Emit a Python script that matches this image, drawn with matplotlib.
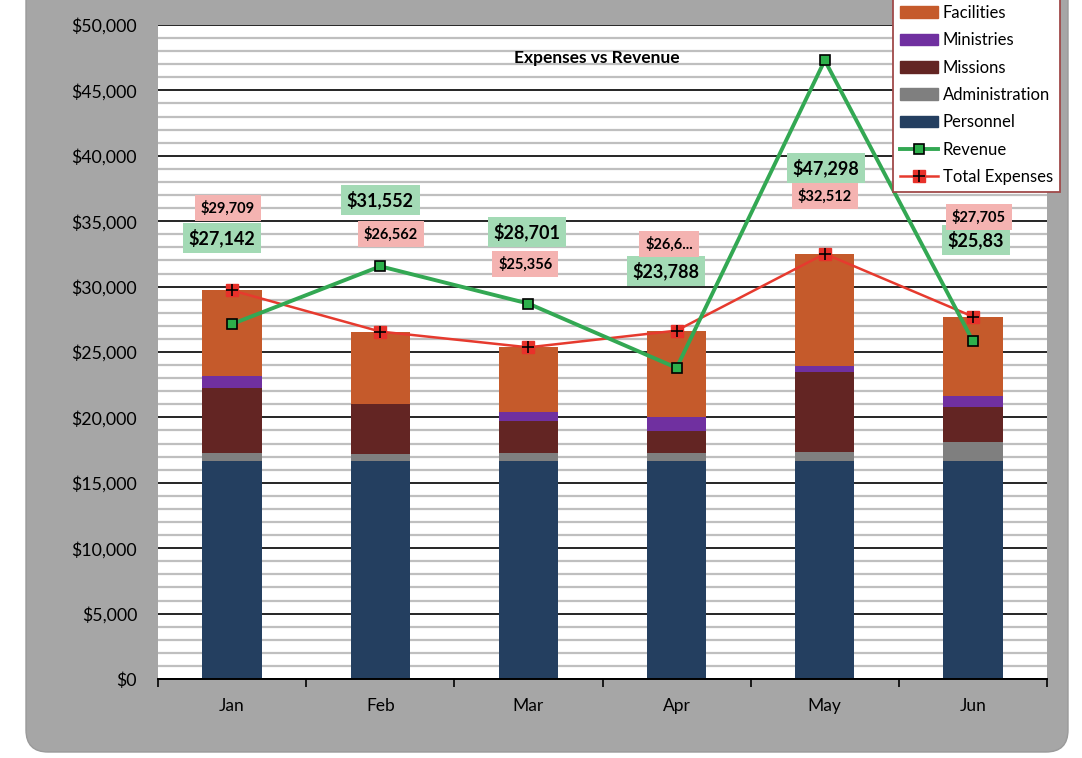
import numpy as np
import matplotlib
matplotlib.use('Agg')
import matplotlib.pyplot as plt
from matplotlib.patches import FancyBboxPatch, Patch
from matplotlib.lines import Line2D
from matplotlib.legend_handler import HandlerTuple
from matplotlib.transforms import IdentityTransform
from matplotlib.ticker import FuncFormatter, MultipleLocator

plt.rcParams['font.family'] = ['Lato', 'DejaVu Sans']

# Data
months = ['Jan', 'Feb', 'Mar', 'Apr', 'May', 'Jun']
personnel = [16650, 16650, 16650, 16650, 16650, 16650]
administration = [620, 540, 650, 650, 700, 1470]
missions = [4990, 3820, 2450, 1680, 6100, 2650]
ministries = [895, 50, 690, 1050, 500, 840]
facilities = [6554, 5502, 4916, 6605, 8562, 6095]
revenue = [27142, 31552, 28701, 23788, 47298, 25835]
total_expenses = [29709, 26562, 25356, 26635, 32512, 27705]

# label texts as shown (two are cut off in the original)
revenue_labels = ['$27,142', '$31,552', '$28,701', '$23,788', '$47,298', '$25,83']
expense_labels = ['$29,709', '$26,562', '$25,356', '$26,6...', '$32,512', '$27,705']

# where the data labels were dragged to (x offset in categories, y in data units)
revenue_label_dx = [-0.07, 0.0, -0.01, -0.07, 0.01, 0.02]
revenue_label_y = [33716, 36620, 34170, 31190, 39070, 33560]
expense_label_dx = [-0.03, 0.07, -0.02, -0.05, 0.0, 0.04]
expense_label_y = [36010, 34020, 31730, 33260, 36930, 35320]

colors = {
    'Personnel': '#243f60',
    'Administration': '#7f7f7f',
    'Missions': '#632523',
    'Ministries': '#7030a0',
    'Facilities': '#c55a2b',
}

fig = plt.figure(figsize=(10.82, 7.58), dpi=100)
fig.patch.set_facecolor('white')

# grey rounded chart background
bg = FancyBboxPatch((26, 6), 1042, 800, boxstyle='round,pad=0,rounding_size=22',
                    transform=IdentityTransform(), fc='#a6a6a6', ec='#9a9a9a',
                    lw=1, zorder=-1)
fig.add_artist(bg)

ax = fig.add_axes([158 / 1082, 79 / 758, 889 / 1082, 654 / 758])
ax.set_facecolor('white')

x = np.arange(len(months))
w = 0.4
bottom = np.zeros(len(months))
stack = [('Personnel', personnel), ('Administration', administration),
         ('Missions', missions), ('Ministries', ministries),
         ('Facilities', facilities)]
for name, vals in stack:
    ax.bar(x, vals, w, bottom=bottom, color=colors[name], zorder=2)
    bottom += np.array(vals)

ax.plot(x, total_expenses, color='#e63a2e', lw=1.8, marker='s', ms=8,
        mfc='#e8312a', mec='#e8312a', zorder=4)
ax.plot(x, total_expenses, ls='none', marker='+', ms=9, mec='black', mew=1.2, zorder=4.5)
ax.plot(x, revenue, color='#33a853', lw=2.8, marker='s', ms=7,
        mfc='#2db04b', mec='black', mew=1.2, zorder=5)

for i in range(len(months)):
    ax.text(x[i] + revenue_label_dx[i], revenue_label_y[i], revenue_labels[i],
            ha='center', va='center', fontsize=13, fontweight='bold', zorder=6,
            bbox=dict(boxstyle='square,pad=0.32', fc='#a3dab5', ec='none'))
    ax.text(x[i] + expense_label_dx[i], expense_label_y[i], expense_labels[i],
            ha='center', va='center', fontsize=10.5, fontweight='bold', zorder=6,
            bbox=dict(boxstyle='square,pad=0.4', fc='#f4b3b1', ec='none'))

ax.text(0.494, 0.950, 'Expenses vs Revenue', transform=ax.transAxes,
        ha='center', va='center', fontsize=12.5, fontweight='bold', zorder=6)

ax.set_xlim(-0.5, len(months) - 0.5)
ax.set_ylim(0, 50000)
ax.yaxis.set_major_locator(MultipleLocator(5000))
ax.yaxis.set_minor_locator(MultipleLocator(1000))
ax.yaxis.set_major_formatter(FuncFormatter(lambda v, p: f'${int(v):,}'))
ax.grid(axis='y', which='major', color='black', lw=1.2, zorder=1)
ax.grid(axis='y', which='minor', color='#bfbfbf', lw=1.6, zorder=1)
ax.set_axisbelow(True)
ax.tick_params(axis='y', which='both', length=0, pad=15, labelsize=12.8)

ax.set_xticks(x)
ax.set_xticklabels(months)
ax.set_xticks(np.arange(-0.5, len(months)), minor=True)
ax.tick_params(axis='x', which='major', length=0, pad=14, labelsize=12.5)
ax.tick_params(axis='x', which='minor', length=6, width=1.2, direction='out', color='black')

for s in ['left', 'top', 'right']:
    ax.spines[s].set_visible(False)
ax.spines['bottom'].set_color('black')
ax.spines['bottom'].set_linewidth(1.4)

handles = [Patch(color=colors['Facilities']), Patch(color=colors['Ministries']),
           Patch(color=colors['Missions']), Patch(color=colors['Administration']),
           Patch(color=colors['Personnel']),
           Line2D([], [], color='#33a853', lw=2.8, marker='s', ms=7, mfc='#2db04b',
                  mec='black', mew=1.2),
           (Line2D([], [], color='#e63a2e', lw=1.8, marker='s', ms=8, mfc='#e8312a',
                   mec='#e8312a'),
            Line2D([], [], ls='none', marker='+', ms=9, mec='black', mew=1.2))]
labels = ['Facilities', 'Ministries', 'Missions', 'Administration', 'Personnel',
          'Revenue', 'Total Expenses']
leg = fig.legend(handles, labels, loc='upper right', bbox_to_anchor=(1068 / 1082, 1.013),
                 frameon=True, fancybox=False, edgecolor='#a04a4a', facecolor='white',
                 framealpha=1, fontsize=12, handlelength=2.3, handleheight=0.7,
                 labelspacing=0.68, borderpad=0.4, handletextpad=0.3,
                 handler_map={tuple: HandlerTuple(ndivide=1)})
leg.get_frame().set_linewidth(1.3)

fig.savefig('out.png', dpi=100)
